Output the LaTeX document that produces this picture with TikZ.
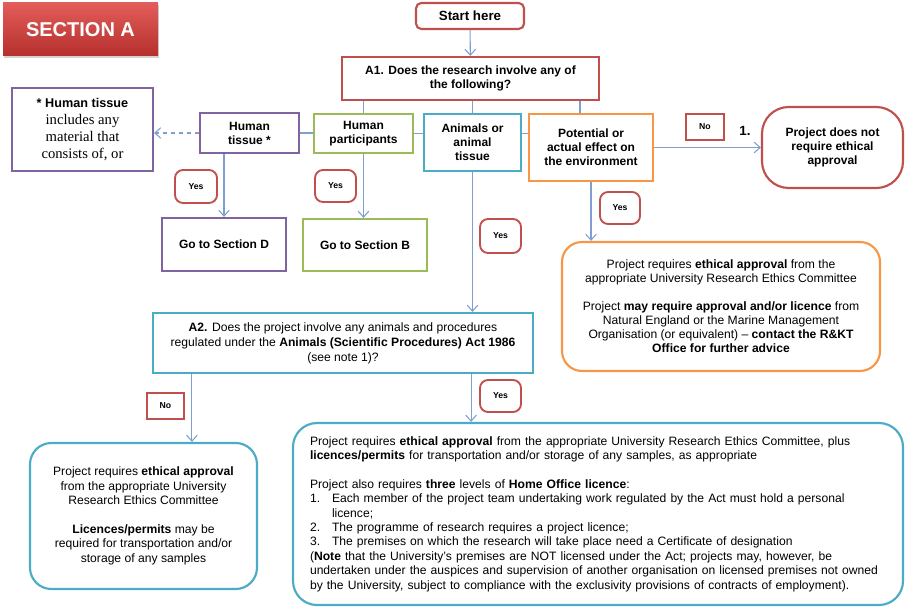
\documentclass[tikz,border=0pt]{standalone}
\usepackage{fontspec}
\setmainfont{Liberation Sans}
\newfontfamily\serifnote{Liberation Serif}
\usetikzlibrary{arrows.meta,shadows}
\definecolor{cred}{HTML}{C0504D}
\definecolor{cpurple}{HTML}{8064A2}
\definecolor{cgreen}{HTML}{9BBB59}
\definecolor{cblue}{HTML}{4BACC6}
\definecolor{corange}{HTML}{F79646}
\definecolor{cline}{HTML}{7F9FD0}
\definecolor{secAtop}{HTML}{E35C59}
\definecolor{secAbot}{HTML}{B5302D}
\begin{document}
\begin{tikzpicture}[x=0.75pt,y=-0.75pt,
  area/.style n args={4}{at={({(#1+#3)/2},{(#2+#4)/2})},
    minimum width={(#3-#1)*0.75pt}, minimum height={(#4-#2)*0.75pt}},
  box/.style={draw, line width=1.6pt, inner sep=0pt, align=center, fill=white,
    font=\bfseries\fontsize{9}{10.5}\selectfont},
  rbox/.style={draw, line width=1.6pt, inner sep=0pt, align=center, fill=white,
    font=\fontsize{9.1}{10.5}\selectfont},
  badge/.style={draw=cred, line width=1.4pt, rounded corners=6pt, inner sep=0pt,
    font=\bfseries\fontsize{6.5}{8}\selectfont},
  nobadge/.style={draw=cred, line width=1.6pt, inner sep=0pt,
    font=\bfseries\fontsize{6.5}{8}\selectfont},
  conn/.style={draw=cline, line width=0.8pt},
  arr/.style={conn, -{Straight Barb[length=4.5pt,width=8pt]}}
]
\useasboundingbox (0,0) rectangle (905,609);

% Section A tag
\node[area={3}{3}{158}{56}, inner sep=0pt, draw=none, top color=secAtop, bottom color=secAbot,
  drop shadow={opacity=0.35, shadow xshift=1pt, shadow yshift=-1.5pt},
  text=white, font=\bfseries\fontsize{15}{18}\selectfont] (secA) {SECTION A};

% Top
\node[box, draw=cred, rounded corners=4pt, font=\bfseries\fontsize{10}{12}\selectfont,
  area={416}{3}{524}{29}] (start) {Start here};
\node[box, draw=cred, area={342}{57}{599}{100}] (A1)
  {A1. Does the research involve any of\\the following?};

% Categories
\node[box, draw=cpurple, area={200}{113}{299}{153}] (ht) {Human\\tissue *};
\node[box, draw=cgreen, area={314}{114}{413}{153}] (hp) {Human\\participants};
\node[box, draw=cblue, area={424}{114}{521}{171}] (an) {Animals or\\animal\\tissue};
\node[box, draw=corange, area={529}{114}{653}{181}] (env)
  {Potential or\\actual effect on\\the environment};

% Note
\node[box, draw=cpurple, area={12}{88}{153}{171}, font=\serifnote\fontsize{11}{12.8}\selectfont] (note)
  {{\normalfont\bfseries\fontsize{9.5}{12.8}\selectfont * Human tissue}\\includes any\\material that\\consists of, or};

% Sections
\node[box, draw=cpurple, area={162}{218}{286}{271}] (secD) {Go to Section D};
\node[box, draw=cgreen, area={303}{219}{427}{271}] (secB) {Go to Section B};

% Badges
\node[badge, area={175}{170}{217}{203}] (yesD) {Yes};
\node[badge, area={315}{170}{356}{202}] (yesB) {Yes};
\node[badge, area={480}{219}{521}{253}] (yesAn) {Yes};
\node[badge, area={600}{192}{640}{224}] (yesE) {Yes};
\node[nobadge, area={686}{114}{724}{140}] (noE) {No};
\node[font=\bfseries\fontsize{10}{12}\selectfont, inner sep=0pt] (one) at (745,131) {1.};

% Terminator
\node[box, draw=cred, rounded corners=20pt, area={762}{107}{903}{188}] (term)
  {Project does not\\require ethical\\approval};

% Environment outcome
\node[rbox, draw=corange, rounded corners=15pt, area={562}{242}{880}{371}] (envbox)
  {Project requires \textbf{ethical approval} from the\\
   appropriate University Research Ethics Committee\\[10.5pt]
   Project \textbf{may require approval and/or licence} from\\
   Natural England or the Marine Management\\
   Organisation (or equivalent) -- \textbf{contact the R\&KT}\\
   \textbf{Office for further advice}};

% A2
\node[rbox, draw=cblue, area={153}{313}{533}{373}, font=\fontsize{9.1}{11.2}\selectfont] (A2)
  {\textbf{A2.} Does the project involve any animals and procedures\\
   regulated under the \textbf{Animals (Scientific Procedures) Act 1986}\\
   (see note 1)?};
\node[nobadge, area={147}{393}{184}{419}] (noA2) {No};
\node[badge, area={480}{380}{521}{412}] (yesA2) {Yes};

% Bottom outcomes
\node[rbox, draw=cblue, rounded corners=16pt, area={30}{443}{257}{589}, font=\fontsize{9.1}{10.8}\selectfont] (leftbox)
  {Project requires \textbf{ethical approval}\\
   from the appropriate University\\
   Research Ethics Committee\\[10.8pt]
   \textbf{Licences/permits} may be\\
   required for transportation and/or\\
   storage of any samples};
\node[rbox, draw=cblue, rounded corners=18pt, area={293}{423}{903}{605}, align=left,
  text width=432pt, font=\fontsize{9.1}{10.8}\selectfont] (bigbox)
  {Project requires \textbf{ethical approval} from the appropriate University Research Ethics Committee, plus\\
   \textbf{licences/permits} for transportation and/or storage of any samples, as appropriate\\[10.8pt]
   Project also requires \textbf{three} levels of \textbf{Home Office licence}:\\
   \makebox[16.5pt][l]{1.}Each member of the project team undertaking work regulated by the Act must hold a personal\\
   \makebox[16.5pt][l]{}licence;\\
   \makebox[16.5pt][l]{2.}The programme of research requires a project licence;\\
   \makebox[16.5pt][l]{3.}The premises on which the research will take place need a Certificate of designation\\
   (\textbf{Note} that the University's premises are NOT licensed under the Act; projects may, however, be\\
   undertaken under the auspices and supervision of another organisation on licensed premises not owned\\
   by the University, subject to compliance with the exclusivity provisions of contracts of employment).};

% Connectors
\draw[arr] (start) -- (A1);
\draw[conn] (A1.south -| hp.north) -- (hp.north);
\draw[conn] (A1.south -| an.north) -- (an.north);
\coordinate (e1) at ([xshift=-8.25pt]env.north);
\draw[conn] (A1.south -| e1) -- (e1);
\draw[conn] (ht.east) -- (ht.east -| hp.west);
\draw[conn] (hp.east) -- (hp.east -| an.west);
\draw[conn] (hp.east -| an.east) -- (hp.east -| env.west);
\draw[arr, dashed] (ht.west) -- (ht.west -| note.east);
\draw[arr] (secD.north |- ht.south) -- (secD.north);
\draw[arr] (hp.south) -- (hp.south |- secB.north);
\draw[arr] (an.south) -- (an.south |- A2.north);
\draw[arr] (env.south) -- (env.south |- envbox.north);
\draw[arr] (env.east) -- (env.east -| term.west);
\coordinate (a2l) at ([xshift=30pt]A2.south west);
\draw[arr] (a2l) -- (a2l |- leftbox.north);
\coordinate (a2r) at ([xshift=-47.25pt]A2.south east);
\draw[arr] (a2r) -- (a2r |- bigbox.north);
\end{tikzpicture}
\end{document}
